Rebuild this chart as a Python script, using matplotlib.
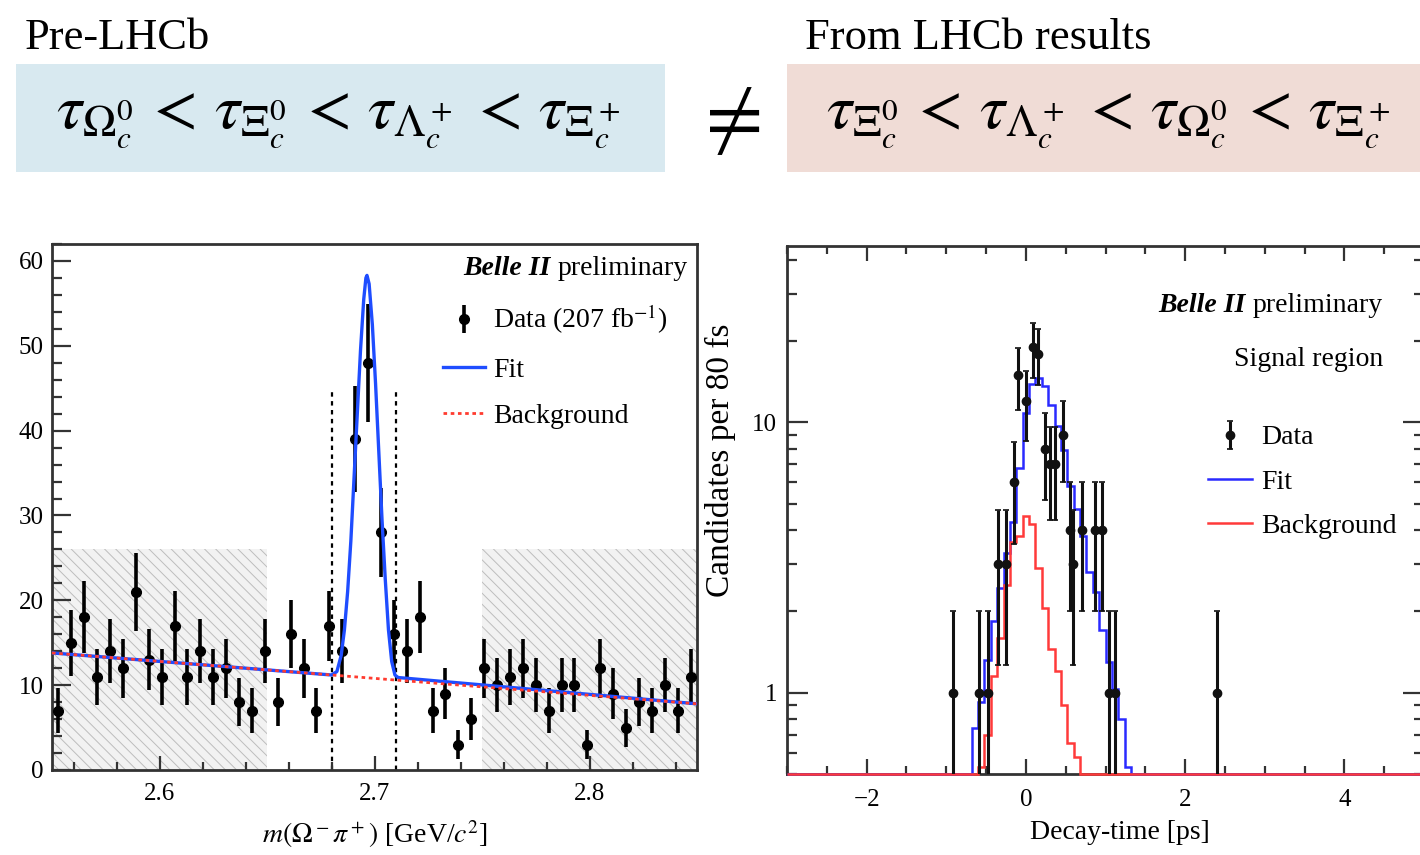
import numpy as np
import matplotlib.pyplot as plt
from matplotlib.ticker import MultipleLocator, LogLocator, NullFormatter

plt.rcParams['font.family'] = ['Liberation Serif', 'DejaVu Serif']
plt.rcParams['mathtext.fontset'] = 'stix'
plt.rcParams['hatch.linewidth'] = 0.7

W, H = 1420, 855

# ---------------- header
pre_title = 'Pre-LHCb'
post_title = 'From LHCb results'
pre_order = r'$\tau_{\Omega_c^0} \,<\, \tau_{\Xi_c^0} \,<\, \tau_{\Lambda_c^+} \,<\, \tau_{\Xi_c^+}$'
post_order = r'$\tau_{\Xi_c^0} \,<\, \tau_{\Lambda_c^+} \,<\, \tau_{\Omega_c^0} \,<\, \tau_{\Xi_c^+}$'

# ---------------- left: m(Omega- pi+) in 6 MeV bins from 2.55 to 2.85
mass_range = (2.55, 2.85)
mass_counts = [7, 15, 18, 11, 14, 12, 21, 13, 11, 17,
               11, 14, 11, 12, 8, 7, 14, 8, 16, 12,
               7, 17, 14, 39, 48, 28, 16, 14, 18, 7,
               9, 3, 6, 12, 10, 11, 12, 10, 7, 10,
               10, 3, 12, 9, 5, 8, 7, 10, 7, 11]
# fit curve
fit_mass = [2.550, 2.680, 2.6825, 2.6845, 2.686, 2.6875, 2.689, 2.6905, 2.692,
            2.6935, 2.695, 2.696, 2.6965, 2.6975, 2.699, 2.7005, 2.702, 2.7035,
            2.705, 2.7065, 2.708, 2.7095, 2.711, 2.850]
fit_val = [13.8, 11.2, 11.6, 13.5, 16.5, 21.0, 27.0, 34.5, 42.0,
           49.5, 55.5, 58.0, 58.3, 57.3, 52.5, 45.5, 37.5, 29.5,
           22.5, 16.5, 12.8, 11.2, 10.9, 7.8]
bkg_mass = [2.55, 2.85]
bkg_val = [13.8, 7.8]
sidebands = [(2.55, 2.65), (2.75, 2.85)]
sideband_top = 26
signal_window = [2.68, 2.71]
window_top = 45

# ---------------- right: decay time, 80 fs bins
time_range = (-3.0, 5.0)
time_bin = 0.08
data_t = [-0.91, -0.59, -0.48, -0.35, -0.25, -0.15, -0.10, 0.00, 0.09, 0.15, 0.24,
          0.30, 0.37, 0.47, 0.55, 0.59, 0.70, 0.87, 0.95, 1.04, 1.12, 2.40]
data_n = [1, 1, 1, 3, 3, 6, 15, 12, 19, 18, 8,
          7, 7, 9, 4, 3, 4, 4, 4, 1, 1, 1]
fit_first_edge = -0.72
fit_hist = [0.74, 0.92, 1.32, 1.84, 2.45, 3.3, 4.3, 6.8, 10.8, 13.9, 14.6, 13.6, 11.6,
            9.7, 7.9, 5.8, 4.8, 3.8, 2.8, 2.35, 1.7, 1.3, 1.03, 0.8, 0.53, 0.4]
bkg_first_edge = -0.56
bkg_hist = [0.53, 0.7, 1.15, 1.6, 2.5, 3.6, 3.8, 4.5, 4.2, 2.9, 2.05, 1.45,
            1.2, 0.9, 0.65, 0.58]


def fig_box(x0, y0, x1, y1):
    # pixel box (top-left origin) -> figure fraction [l, b, w, h]
    return [x0 / W, 1 - y1 / H, (x1 - x0) / W, (y1 - y0) / H]


fig = plt.figure(figsize=(W / 100, H / 100), dpi=100)

# header boxes
for (x0, x1, col) in [(16, 665, '#d8e9f0'), (787, 1420, '#f0dcd6')]:
    l, b, w, h = fig_box(x0, 64, x1, 172)
    fig.patches.append(plt.Rectangle((l, b), w, h, transform=fig.transFigure,
                                     facecolor=col, edgecolor='none'))
fig.text(25 / W, 1 - 38 / H, pre_title, fontsize=32, va='center', ha='left')
fig.text(805 / W, 1 - 38 / H, post_title, fontsize=32, va='center', ha='left')
fig.text(338 / W, 1 - 121 / H, pre_order, fontsize=46, va='center', ha='center')
fig.text(1108 / W, 1 - 121 / H, post_order, fontsize=46, va='center', ha='center')
fig.text(727 / W, 1 - 122 / H, r'$\neq$', fontsize=60, va='center', ha='center')

spine_col = '#333333'
txt_size = 20

# ---------------- left panel
ax1 = fig.add_axes(fig_box(52, 244, 697, 770))
edges = np.arange(len(mass_counts) + 1) * (mass_range[1] - mass_range[0]) / len(mass_counts) + mass_range[0]
centers = 0.5 * (edges[1:] + edges[:-1])
counts = np.array(mass_counts, dtype=float)

for lo, hi in sidebands:
    ax1.fill_between([lo, hi], 0, sideband_top, facecolor='#f2f2f2',
                     edgecolor='#bdbdbd', hatch='\\\\\\', linewidth=0, zorder=0)
ax1.vlines(signal_window, 0, window_top, colors='black', linestyles=(0, (2, 2)),
           linewidth=1.6, zorder=1)
eb1 = ax1.errorbar(centers, counts, yerr=np.sqrt(counts), fmt='o', color='black',
                   markersize=7, elinewidth=2.6, capsize=0, zorder=3)
fit1, = ax1.plot(fit_mass, fit_val, color='#1f4dff', lw=2.4, zorder=4)
bkg1, = ax1.plot(bkg_mass, bkg_val, color='#ff3b2f', lw=2.0, ls=(0, (1.3, 1.3)), zorder=5)

ax1.set_xlim(*mass_range)
ax1.set_ylim(0, 62)
ax1.xaxis.set_major_locator(MultipleLocator(0.1))
ax1.xaxis.set_minor_locator(MultipleLocator(0.02))
ax1.yaxis.set_major_locator(MultipleLocator(10))
ax1.yaxis.set_minor_locator(MultipleLocator(2))
ax1.tick_params(which='both', direction='in', top=False, right=False,
                color=spine_col, labelsize=18, width=1.6)
ax1.tick_params(axis='y', which='major', length=14, pad=6)
ax1.tick_params(axis='y', which='minor', length=7)
ax1.tick_params(axis='x', which='major', length=10, pad=9)
ax1.tick_params(axis='x', which='minor', length=6)
for s in ax1.spines.values():
    s.set_linewidth(2)
    s.set_color(spine_col)
ax1.set_xlabel(r'$m(\Omega^-\pi^+)$ [GeV/$c^2$]', fontsize=20, labelpad=10)

t1 = ax1.text((688 - 52) / 645, (770 - 268) / 526, 'preliminary', transform=ax1.transAxes,
              ha='right', va='center', fontsize=txt_size)
ax1.annotate('Belle II', xy=(0, 0), xycoords=t1, xytext=(-5, 0), textcoords='offset points',
             ha='right', va='bottom', fontsize=txt_size, fontweight='bold', style='italic')
ax1.legend([eb1, fit1, bkg1], ['Data (207 fb$^{-1}$)', 'Fit', 'Background'],
           loc='upper left', bbox_to_anchor=((443 - 52) / 645, (770 - 303) / 526),
           frameon=False, fontsize=txt_size, handlelength=1.5, handletextpad=0.3,
           labelspacing=0.75, borderpad=0, borderaxespad=0)

# ---------------- right panel
ax2 = fig.add_axes(fig_box(787, 246, 1424, 774))
ylo, yhi = 0.5, 45
n_time_bins = int(round((time_range[1] - time_range[0]) / time_bin))
t_edges = time_range[0] + time_bin * np.arange(n_time_bins + 1)


def full_hist(first_edge, vals):
    full = np.zeros(n_time_bins)
    start = int(round((first_edge - time_range[0]) / time_bin))
    full[start:start + len(vals)] = vals
    return np.maximum(full, ylo)


ax2.stairs(full_hist(fit_first_edge, fit_hist), t_edges, baseline=None,
           color='#2a2aff', lw=1.8, zorder=3, clip_on=False)
ax2.stairs(full_hist(bkg_first_edge, bkg_hist), t_edges, baseline=None,
           color='#ff3a3a', lw=1.8, zorder=4, clip_on=False)
n2 = np.array(data_n, dtype=float)
eb2 = ax2.errorbar(data_t, n2, yerr=np.sqrt(n2), fmt='o', color='#111111',
                   markersize=6, elinewidth=2.2, capsize=2.5, capthick=1.2, zorder=5)
fit2 = plt.Line2D([], [], color='#2a2aff', lw=1.8)
bkg2 = plt.Line2D([], [], color='#ff3a3a', lw=1.8)

ax2.set_yscale('log')
ax2.set_xlim(*time_range)
ax2.set_ylim(ylo, yhi)
ax2.set_yticks([1, 10])
ax2.set_yticklabels(['1', '10'])
ax2.yaxis.set_minor_locator(LogLocator(subs=np.arange(2, 10)))
ax2.yaxis.set_minor_formatter(NullFormatter())
ax2.xaxis.set_major_locator(MultipleLocator(2))
ax2.xaxis.set_minor_locator(MultipleLocator(0.5))
ax2.tick_params(which='both', direction='in', top=True, right=True,
                color=spine_col, labelsize=18, width=1.6)
ax2.tick_params(axis='y', which='major', length=15, pad=7)
ax2.tick_params(axis='y', which='minor', length=7)
ax2.tick_params(axis='x', which='major', length=11, pad=11)
ax2.tick_params(axis='x', which='minor', length=6)
for s in ax2.spines.values():
    s.set_linewidth(2)
    s.set_color(spine_col)
ax2.set_xlabel('Decay-time [ps]', fontsize=20)
ax2.xaxis.set_label_coords((1120 - 787) / 637, -(820 - 774) / 528)
ax2.set_ylabel('Candidates per 80 fs', fontsize=24)
ax2.yaxis.set_label_coords((736 - 787) / 637, (774 - 460) / 528)

t2 = ax2.text((1383 - 787) / 637, (774 - 306) / 528, 'preliminary', transform=ax2.transAxes,
              ha='right', va='center', fontsize=txt_size)
ax2.annotate('Belle II', xy=(0, 0), xycoords=t2, xytext=(-5, 0), textcoords='offset points',
             ha='right', va='bottom', fontsize=txt_size, fontweight='bold', style='italic')
ax2.text((1383 - 787) / 637, (774 - 359) / 528, 'Signal region', transform=ax2.transAxes,
         ha='right', va='center', fontsize=txt_size)
ax2.legend([eb2, fit2, bkg2], ['Data', 'Fit', 'Background'],
           loc='upper left', bbox_to_anchor=((1208 - 787) / 637, (774 - 425) / 528),
           frameon=False, fontsize=txt_size, handlelength=1.6, handletextpad=0.3,
           labelspacing=0.68, borderpad=0, borderaxespad=0)

fig.savefig('out.png', dpi=100)
